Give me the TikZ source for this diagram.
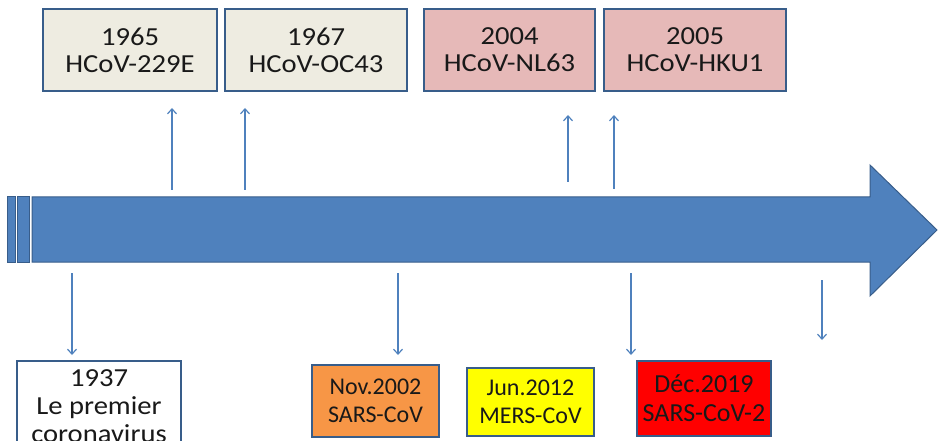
\documentclass[tikz,border=0pt]{standalone}
\usepackage{fontspec}
\setmainfont{Carlito}
\newfontfamily\topfont[FakeStretch=1.1]{Carlito}
\usetikzlibrary{arrows.meta}
\definecolor{bluefill}{HTML}{4F81BD}
\definecolor{blueedge}{HTML}{385D8A}
\definecolor{beige}{HTML}{EEECE1}
\definecolor{pinkbox}{HTML}{E6B9B8}
\definecolor{orangebox}{HTML}{F79646}
\definecolor{yellowbox}{HTML}{FFFF00}
\definecolor{redbox}{HTML}{FF0000}
\tikzset{
  box/.style={draw=blueedge, line width=1.6pt, align=center, inner sep=0pt,
    font=\fontsize{24}{28}\selectfont, text=black!90},
  topbox/.style={box, font=\topfont\fontsize{26}{27}\selectfont, minimum height=82pt},
  conn/.style={draw=bluefill, line width=1.2pt, -{Straight Barb[length=5pt,width=9pt]}},
  bar/.style={fill=bluefill, draw=blueedge, line width=1pt}
}
\begin{document}
\begin{tikzpicture}[x=1pt,y=-1pt]
\useasboundingbox (0,0) rectangle (938,441);
\clip (0,0) rectangle (938,441);
% main timeline arrow
\path[bar] (7,197) rectangle (15,262);
\path[bar] (17,197) rectangle (29,262);
\path[bar] (32,197) -- (870,197) -- (870,165) -- (937,230) -- (870,296) -- (870,262) -- (32,262) -- cycle;
% top boxes
\node[topbox, fill=beige, minimum width=174pt] (b1965) at (130,50) {1965\\HCoV-229E};
\node[topbox, fill=beige, minimum width=182pt] (b1967) at (316,50) {1967\\HCoV-OC43};
\node[topbox, fill=pinkbox, minimum width=171pt] (b2004) at (509.5,50) {2004\\HCoV-NL63};
\node[topbox, fill=pinkbox, minimum width=182pt] (b2005) at (695,50) {2005\\HCoV-HKU1};
% bottom boxes
\node[box, fill=white, font=\topfont\fontsize{26}{28}\selectfont, minimum width=164pt, minimum height=90pt] (b1937) at (99,406) {1937\\Le premier\\coronavirus};
\node[box, fill=orangebox, minimum width=127pt, minimum height=72pt] (b2002) at (375.5,401) {Nov.2002\\SARS-CoV};
\node[box, fill=yellowbox, minimum width=127pt, minimum height=68pt] (b2012) at (530.5,402) {Jun.2012\\MERS-CoV};
\node[box, fill=redbox, font=\fontsize{26}{29}\selectfont, minimum width=134pt, minimum height=75pt] (b2019) at (704,398.5) {Déc.2019\\SARS-CoV-2};
% connector coordinates
\coordinate (u1s) at (172,190); \coordinate (u1e) at (172,108);
\coordinate (u2s) at (245,190); \coordinate (u2e) at (245,108);
\coordinate (u3s) at (568,182); \coordinate (u3e) at (568,115);
\coordinate (u4s) at (614,189); \coordinate (u4e) at (614,115);
\coordinate (d1s) at (72,273);  \coordinate (d1e) at (72,355);
\coordinate (d2s) at (398,273); \coordinate (d2e) at (398,355);
\coordinate (d3s) at (631,273); \coordinate (d3e) at (631,355);
\coordinate (d4s) at (822,280); \coordinate (d4e) at (822,340);
\draw[conn] (u1s) -- (u1e);
\draw[conn] (u2s) -- (u2e);
\draw[conn] (u3s) -- (u3e);
\draw[conn] (u4s) -- (u4e);
\draw[conn] (d1s) -- (d1e);
\draw[conn] (d2s) -- (d2e);
\draw[conn] (d3s) -- (d3e);
\draw[conn] (d4s) -- (d4e);
\end{tikzpicture}
\end{document}
